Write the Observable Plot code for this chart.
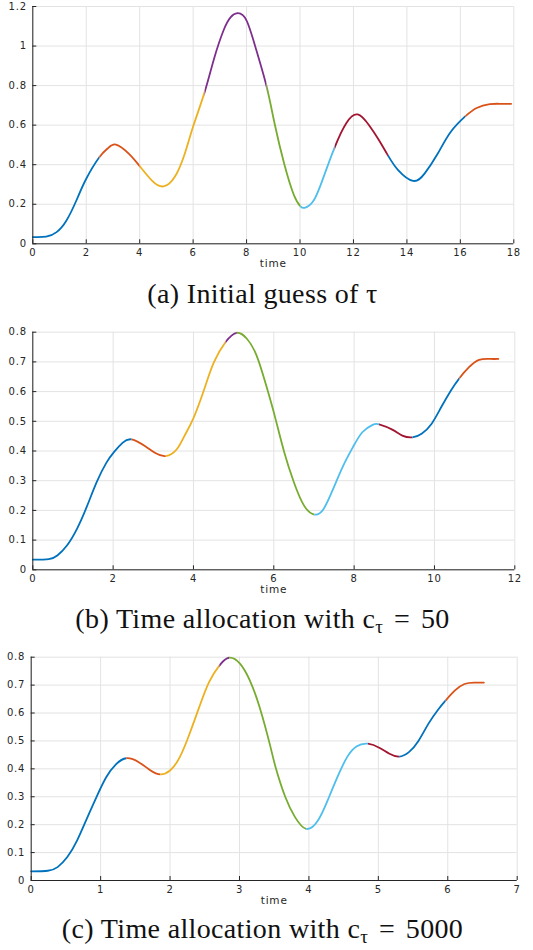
<!DOCTYPE html>
<html>
<head>
<meta charset="utf-8">
<script src="https://cdn.jsdelivr.net/npm/d3@7"></script>
<script src="https://cdn.jsdelivr.net/npm/@observablehq/plot@0.6"></script>
<style>
  html, body { margin: 0; padding: 0; background: #fff; }
  #wrap { position: relative; width: 533px; height: 950px; overflow: hidden; }
  .panel { position: absolute; left: 0; }
  .cap { position: absolute; left: -4px; width: 533px; text-align: center;
         font-family: "Liberation Serif", "Times New Roman", serif; font-size: 28px;
         letter-spacing: 0.35px; line-height: 1; color: #111; white-space: nowrap; }
  .cap sub { font-size: 0.68em; vertical-align: -0.28em; line-height: 0; }
  .cap .eq { margin: 0 0.12em; }
</style>
</head>
<body>
<div id="wrap"></div>
<script>
// MATLAB default colour order, cycled per segment
const palette = ["#0072BD", "#D95319", "#EDB120", "#7E2F8E", "#77AC30", "#4DBEEE", "#A2142F"];

// (a) Initial guess of tau
const t1 = [0, 0.5, 0.89, 1.26, 1.63, 2.0, 2.49, 2.8, 3.11, 3.6, 4.0, 4.46, 4.89, 5.32, 5.69, 6.0, 6.43, 6.78, 7.14, 7.4, 7.66, 8.0, 8.37, 8.75, 9.05, 9.41, 9.78, 10.02, 10.17, 10.51, 10.88, 11.3, 11.73, 12.16, 12.59, 12.95, 13.29, 13.68, 14.23, 14.66, 15.15, 15.63, 16.18, 16.61, 17.1, 17.5, 17.9];
const y1 = [0.034, 0.036, 0.059, 0.118, 0.219, 0.329, 0.438, 0.482, 0.502, 0.455, 0.393, 0.32, 0.29, 0.34, 0.457, 0.593, 0.767, 0.935, 1.08, 1.145, 1.166, 1.129, 0.977, 0.795, 0.607, 0.404, 0.244, 0.189, 0.182, 0.219, 0.337, 0.489, 0.61, 0.654, 0.598, 0.525, 0.447, 0.371, 0.318, 0.355, 0.455, 0.564, 0.644, 0.687, 0.706, 0.708, 0.708];
const breaks1 = [2.49, 4.0, 6.43, 8.75, 10.02, 11.3, 13.29, 16.18];
const xTicks1 = [0, 2, 4, 6, 8, 10, 12, 14, 16, 18];
const yTicks1 = [0, 0.2, 0.4, 0.6, 0.8, 1, 1.2];

// (b) c_tau = 50
const t2 = [0, 0.4, 0.61, 0.85, 1.1, 1.34, 1.59, 1.83, 2.03, 2.24, 2.46, 2.8, 3.05, 3.31, 3.58, 3.78, 4.0, 4.27, 4.51, 4.8, 5.08, 5.33, 5.57, 5.81, 6.02, 6.26, 6.5, 6.75, 7.01, 7.24, 7.48, 7.73, 7.97, 8.21, 8.46, 8.62, 8.95, 9.2, 9.45, 9.68, 9.93, 10.17, 10.41, 10.62, 10.86, 11.11, 11.39, 11.59];
const y2 = [0.034, 0.036, 0.048, 0.082, 0.138, 0.211, 0.295, 0.36, 0.398, 0.428, 0.439, 0.416, 0.393, 0.383, 0.405, 0.452, 0.511, 0.609, 0.699, 0.767, 0.798, 0.778, 0.722, 0.621, 0.52, 0.396, 0.295, 0.217, 0.186, 0.205, 0.273, 0.351, 0.413, 0.464, 0.488, 0.49, 0.472, 0.452, 0.446, 0.458, 0.492, 0.548, 0.604, 0.645, 0.682, 0.707, 0.71, 0.71];
const breaks2 = [2.46, 3.31, 4.8, 5.08, 7.01, 8.62, 9.45, 10.62];
const xTicks2 = [0, 2, 4, 6, 8, 10, 12];
const yTicks2 = [0, 0.1, 0.2, 0.3, 0.4, 0.5, 0.6, 0.7, 0.8];

// (c) c_tau = 5000
const t3 = [0, 0.24, 0.38, 0.52, 0.66, 0.8, 0.94, 1.08, 1.22, 1.37, 1.55, 1.72, 1.86, 2.0, 2.14, 2.28, 2.42, 2.56, 2.71, 2.85, 3.01, 3.15, 3.29, 3.44, 3.52, 3.66, 3.8, 3.96, 4.13, 4.27, 4.41, 4.55, 4.69, 4.85, 5.02, 5.16, 5.3, 5.44, 5.58, 5.72, 5.86, 5.97, 6.1, 6.24, 6.38, 6.52];
const y3 = [0.033, 0.035, 0.048, 0.084, 0.143, 0.221, 0.299, 0.37, 0.416, 0.438, 0.424, 0.394, 0.38, 0.394, 0.442, 0.525, 0.621, 0.71, 0.77, 0.798, 0.776, 0.716, 0.621, 0.485, 0.406, 0.299, 0.227, 0.185, 0.215, 0.287, 0.37, 0.442, 0.481, 0.49, 0.475, 0.454, 0.444, 0.46, 0.501, 0.561, 0.612, 0.645, 0.68, 0.704, 0.709, 0.709];
const breaks3 = [1.37, 1.86, 2.71, 2.85, 3.96, 4.85, 5.3, 5.97];
const xTicks3 = [0, 1, 2, 3, 4, 5, 6, 7];
const yTicks3 = [0, 0.1, 0.2, 0.3, 0.4, 0.5, 0.6, 0.7, 0.8];

const captions = [
  "(a) Initial guess of τ",
  "(b) Time allocation with c<sub>τ</sub> <span class=\"eq\">=</span> 50",
  "(c) Time allocation with c<sub>τ</sub> <span class=\"eq\">=</span> 5000"
];

const fmt = d => String(+(+d).toFixed(2));
const axisColor = "#262626";
const gridColor = "#e3e3e3";
const W = 533;

function panel(o) {
  const rows = o.t.map((ti, i) => ({t: ti, y: o.y[i]}));
  const xd = [o.xTicks[0], o.xTicks[o.xTicks.length - 1]];
  const yd = [o.yTicks[0], o.yTicks[o.yTicks.length - 1]];
  const nSeg = o.breaks.length + 1;
  // one copy of the full smooth curve per segment colour; each copy is clipped to its time window below
  const lineMarks = d3.range(nSeg).map(k =>
    Plot.line(rows, {x: "t", y: "y", stroke: palette[k % palette.length], curve: "natural", strokeWidth: 1.8})
  );
  const svg = Plot.plot({
    width: W, height: o.height,
    marginTop: o.mt, marginBottom: o.mb, marginLeft: o.ml, marginRight: o.mr,
    x: {domain: xd}, y: {domain: yd},
    style: {fontFamily: "DejaVu Sans, sans-serif", fontSize: "10px", color: axisColor, background: "white", letterSpacing: "0.8px", overflow: "visible"},
    marks: [
      Plot.gridX(o.xTicks, {stroke: gridColor, strokeOpacity: 1}),
      Plot.gridY(o.yTicks, {stroke: gridColor, strokeOpacity: 1}),
      ...lineMarks,
      Plot.ruleX([xd[0]], {stroke: axisColor, strokeWidth: 1}),
      Plot.ruleY([yd[0]], {stroke: axisColor, strokeWidth: 1}),
      Plot.axisX(o.xTicks, {tickSize: -4, tickPadding: 9, tickFormat: fmt, label: null, stroke: axisColor, color: axisColor}),
      Plot.axisY(o.yTicks, {tickSize: -4, tickPadding: 10, tickFormat: fmt, label: null, stroke: axisColor, color: axisColor}),
      Plot.text(["time"], {text: d => d, frameAnchor: "bottom", dy: 23.5, fill: axisColor, fontSize: 10.5})
    ]
  });
  // clip each coloured copy to its segment's time window, using the same linear x mapping
  const xs = d3.scaleLinear(xd, [o.ml, W - o.mr]);
  const ns = "http://www.w3.org/2000/svg";
  const defs = document.createElementNS(ns, "defs");
  svg.insertBefore(defs, svg.firstChild);
  const gs = svg.querySelectorAll('g[aria-label="line"]');
  const bounds = [xd[0] - 1, ...o.breaks, xd[1] + 1];
  gs.forEach((g, k) => {
    const id = `clip-${o.id}-${k}`;
    const cp = document.createElementNS(ns, "clipPath");
    cp.setAttribute("id", id);
    const r = document.createElementNS(ns, "rect");
    const x0 = xs(bounds[k]), x1 = xs(bounds[k + 1]);
    r.setAttribute("x", x0);
    r.setAttribute("y", -10);
    r.setAttribute("width", Math.max(0, x1 - x0));
    r.setAttribute("height", o.height + 20);
    cp.appendChild(r);
    defs.appendChild(cp);
    g.setAttribute("clip-path", `url(#${id})`);
  });
  return svg;
}

const wrap = document.getElementById("wrap");
const configs = [
  {id: "a", t: t1, y: y1, breaks: breaks1, xTicks: xTicks1, yTicks: yTicks1, top: 0, height: 280, mt: 6, mb: 36.7, ml: 32.3, mr: 19.7, capTop: 279.8},
  {id: "b", t: t2, y: y2, breaks: breaks2, xTicks: xTicks2, yTicks: yTicks2, top: 315, height: 290, mt: 16.7, mb: 35.7, ml: 32.3, mr: 18.7, capTop: 604.5},
  {id: "c", t: t3, y: y3, breaks: breaks3, xTicks: xTicks3, yTicks: yTicks3, top: 640, height: 275, mt: 16.7, mb: 35, ml: 30.7, mr: 16.3, capTop: 914.8}
];
configs.forEach((c, i) => {
  const svg = panel(c);
  svg.classList.add("panel");
  svg.style.top = c.top + "px";
  wrap.appendChild(svg);
  const cap = document.createElement("div");
  cap.className = "cap";
  cap.style.top = c.capTop + "px";
  cap.innerHTML = captions[i];
  wrap.appendChild(cap);
});
</script>
</body>
</html>
